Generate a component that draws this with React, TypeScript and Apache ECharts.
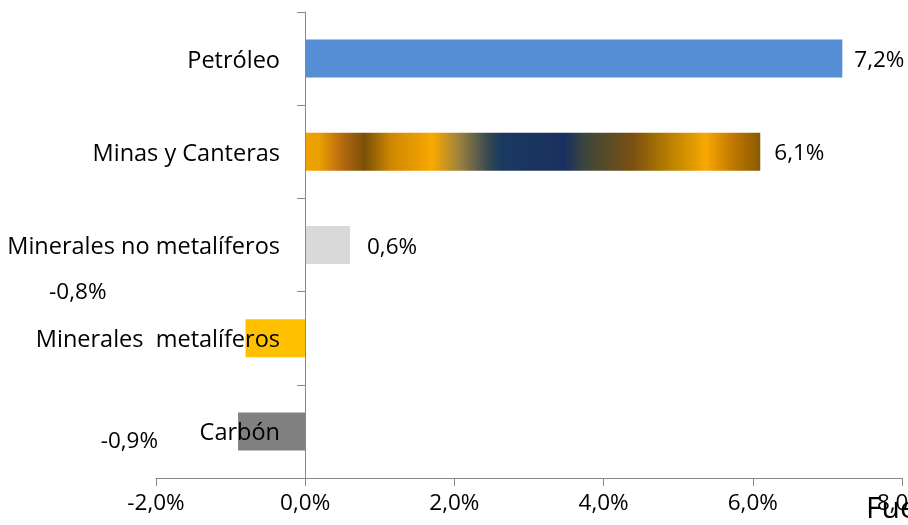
import React, { useEffect, useRef } from "react";
import * as echarts from "echarts";

const categories = [
  "Petróleo",
  "Minas y Canteras",
  "Minerales no metalíferos",
  "Minerales  metalíferos",
  "Carbón",
];
const values = [7.2, 6.1, 0.6, -0.8, -0.9];
const xTicks = [-2, 0, 2, 4, 6, 8];
const sourceText = "Fuente: elaboración propia";

const FONT = "Open Sans";
const FS = 22.5;
const FS_CAT = 23.5;

export default function App() {
  const ref = useRef<HTMLDivElement>(null);
  useEffect(() => {
    if (!ref.current) return;
    const chart = echarts.init(ref.current, null, { renderer: "svg" });
    const gold = new echarts.graphic.LinearGradient(0, 0, 1, 0, [
      { offset: 0, color: "#f0a000" },
      { offset: 0.03, color: "#eaa000" },
      { offset: 0.08, color: "#b86a10" },
      { offset: 0.13, color: "#7a5008" },
      { offset: 0.19, color: "#d08800" },
      { offset: 0.28, color: "#f8a800" },
      { offset: 0.34, color: "#9a8040" },
      { offset: 0.4, color: "#3a4a50" },
      { offset: 0.43, color: "#1a3a60" },
      { offset: 0.57, color: "#1a3060" },
      { offset: 0.62, color: "#404838" },
      { offset: 0.72, color: "#7a5010" },
      { offset: 0.79, color: "#b07a00" },
      { offset: 0.88, color: "#f8a800" },
      { offset: 0.94, color: "#c07800" },
      { offset: 1, color: "#8a5a00" },
    ]);
    const colors: any[] = ["#558ed5", gold, "#d9d9d9", "#ffc000", "#808080"];
    const labelCfg: any[] = [
      { position: "right", distance: 12 },
      { position: "right", distance: 14 },
      { position: "right", distance: 17 },
      { position: "left", distance: 5, offset: [-134, -48] },
      { position: "left", distance: 5, offset: [-75, 8] },
    ];
    const fmt = (v: number) => v.toFixed(1).replace(".", ",") + "%";
    chart.setOption({
      animation: false,
      grid: {
        left: 156,
        right: 6,
        top: 12,
        bottom: 47,
        containLabel: false,
        outerBoundsMode: "none",
      },
      xAxis: {
        type: "value",
        min: xTicks[0],
        max: xTicks[xTicks.length - 1],
        interval: 2,
        axisLine: { show: true, lineStyle: { color: "#898989", width: 1 } },
        axisTick: { show: true, length: 8, lineStyle: { color: "#898989" } },
        splitLine: { show: false },
        axisLabel: {
          margin: 12,
          color: "#000",
          fontFamily: FONT,
          fontSize: FS,
          formatter: (v: number) => fmt(v),
        },
      },
      yAxis: {
        type: "category",
        data: categories,
        inverse: true,
        axisLine: { show: true, onZero: true, lineStyle: { color: "#898989", width: 1 } },
        axisTick: { show: true, length: 8, lineStyle: { color: "#898989" } },
        axisLabel: {
          margin: -124,
          align: "right",
          color: "#000",
          fontFamily: FONT,
          fontSize: FS_CAT,
        },
        z: 10,
      },
      graphic: [
        {
          type: "text",
          left: 866,
          top: 491,
          silent: true,
          style: { text: sourceText, fontFamily: FONT, fontSize: 30, fill: "#000" },
        },
      ],
      series: [
        {
          type: "bar",
          barWidth: 38,
          data: values.map((v, i) => ({
            value: v,
            itemStyle: { color: colors[i] },
            label: {
              show: true,
              ...labelCfg[i],
              color: "#000",
              fontFamily: FONT,
              fontSize: FS,
              formatter: () => fmt(v),
            },
          })),
        },
      ],
    });
    return () => chart.dispose();
  }, []);
  return (
    <div
      ref={ref}
      style={{ position: "fixed", left: 0, top: 0, width: 908, height: 525 }}
    />
  );
}
